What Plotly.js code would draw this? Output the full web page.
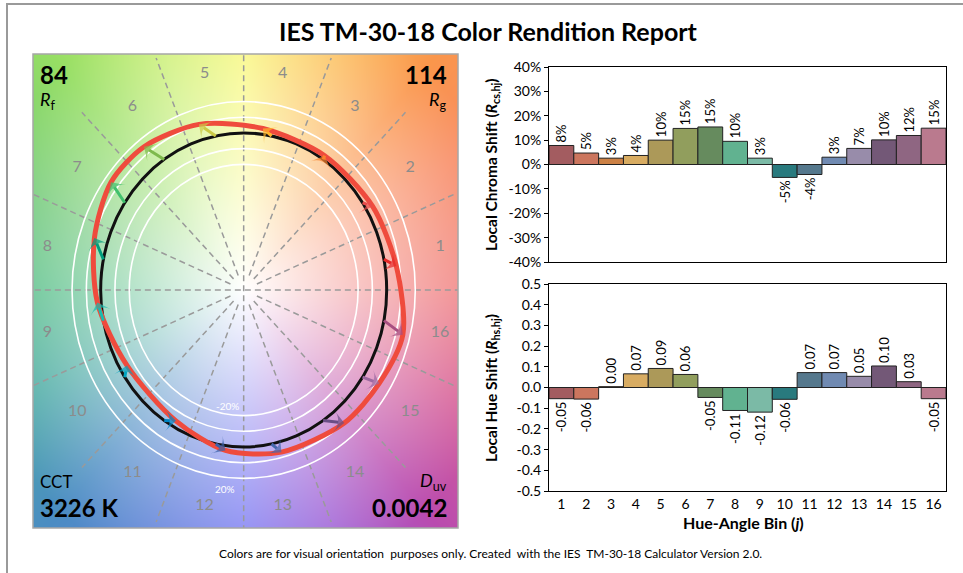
<!DOCTYPE html>
<html><head><meta charset="utf-8">
<script src="https://cdn.plot.ly/plotly-3.0.1.min.js"></script>
<style>html,body{margin:0;padding:0;background:#fff;}#chart{width:963px;height:573px;}</style>
</head><body><div id="chart"></div>
<script>
// ---------------- data ----------------
const bins = [1,2,3,4,5,6,7,8,9,10,11,12,13,14,15,16];
const binLabels = ['1','2','3','4','5','6','7','8','9','10','11','12','13','14','15','16'];
const chromaShift = [0.078,0.047,0.026,0.037,0.100,0.148,0.154,0.095,0.026,-0.053,-0.041,0.030,0.066,0.101,0.119,0.149];
const hueShift = [-0.054,-0.056,0.004,0.066,0.092,0.063,-0.048,-0.111,-0.119,-0.057,0.072,0.072,0.054,0.104,0.028,-0.054];
const barColors = ['#A35C60','#CC765E','#CC8145','#D8AC62','#AC9959','#919E5D','#668B5E','#61B290','#7BBAA6','#297A7E','#55788D','#708AB2','#988CAA','#735877','#8F6682','#BA7A8E'];
const arrowColors = ['#E62828','#E74B4B','#FB812E','#FFB529','#CBCA46','#7EB94C','#41C06D','#009C7C','#16BCB0','#00A4BF','#0085C3','#3B62AA','#4568AE','#6A4E85','#9D69A1','#A74F81'];
const chromaTickVals = [-0.4,-0.3,-0.2,-0.1,0,0.1,0.2,0.3,0.4];
const chromaTickText = ['-40%','-30%','-20%','-10%','0%','10%','20%','30%','40%'];
const hueTickVals = [-0.5,-0.4,-0.3,-0.2,-0.1,0,0.1,0.2,0.3,0.4,0.5];
const hueTickText = ['-0.5','-0.4','-0.3','-0.2','-0.1','0.0','0.1','0.2','0.3','0.4','0.5'];
const ringLevels = [0.8,0.9,1.1,1.2];
const RfText = '84', RgText = '114', cctText = '3226 K', duvText = '0.0042';

// ---------------- geometry / style ----------------
const W = 963, H = 573;
const FONT = 'Lato, "Open Sans", sans-serif';
const px = v => v / W, py = v => 1 - v / H;
const XR = [-1.473, 1.4986], YR = [-1.516, 1.503];
const deg = Math.PI / 180;
const binCenter = j => (22.5 * j + 11.25) * deg;

// background gradient image
const bgStops = [[0,[240,125,125]],[30,[248,140,100]],[48,[250,150,75]],[70,[252,200,100]],[90,[248,248,125]],[110,[205,240,120]],[132,[150,222,100]],[160,[110,200,120]],[180,[85,190,135]],[205,[75,170,165]],[228,[75,140,195]],[250,[100,130,220]],[270,[125,125,242]],[292,[160,100,215]],[312,[185,75,175]],[335,[215,95,150]],[360,[240,125,125]]];
function edgeColor(a){
  for(let i=0;i<bgStops.length-1;i++){
    const [a0,c0]=bgStops[i],[a1,c1]=bgStops[i+1];
    if(a>=a0 && a<=a1){const t=(a-a0)/(a1-a0);return c0.map((v,k)=>v+(c1[k]-v)*t);}
  }
  return bgStops[0][1];
}
const cw=425, ch=474;
const cv=document.createElement('canvas'); cv.width=cw; cv.height=ch;
const ctx=cv.getContext('2d'); const img=ctx.createImageData(cw,ch);
for(let j=0;j<ch;j++){for(let i=0;i<cw;i++){
  const x=XR[0]+(i+0.5)/cw*(XR[1]-XR[0]);
  const y=YR[1]-(j+0.5)/ch*(YR[1]-YR[0]);
  let a=Math.atan2(y,x)/deg; if(a<0)a+=360;
  const r=Math.sqrt(x*x+y*y);
  const s=Math.pow(Math.min(1,r/1.9),0.95);
  const c=edgeColor(a);
  const o=(j*cw+i)*4;
  for(let k=0;k<3;k++) img.data[o+k]=Math.round(255*(1-s)+c[k]*s);
  img.data[o+3]=255;
}}
ctx.putImageData(img,0,0);
const bgURL=cv.toDataURL();

// ---------------- vector graphic ----------------
const refX = bins.map((b,j)=>Math.cos(binCenter(j)));
const refY = bins.map((b,j)=>Math.sin(binCenter(j)));
const testX = bins.map((b,j)=>(1+chromaShift[j])*Math.cos(binCenter(j)+hueShift[j]));
const testY = bins.map((b,j)=>(1+chromaShift[j])*Math.sin(binCenter(j)+hueShift[j]));

const shapes = [];
const dashLine = {color:'#9a9a9a',width:1.5,dash:'6px,4px'};
shapes.push({type:'line',xref:'x',yref:'y',layer:'between',x0:-1.6,y0:0,x1:1.6,y1:0,line:dashLine});
shapes.push({type:'line',xref:'x',yref:'y',layer:'between',x0:0,y0:-1.6,x1:0,y1:1.6,line:dashLine});
for(let j=0;j<16;j++){
  if(j%4===0) continue;
  const a=22.5*j*deg;
  shapes.push({type:'line',xref:'x',yref:'y',layer:'between',x0:0.1*Math.cos(a),y0:0.1*Math.sin(a),x1:1.6*Math.cos(a),y1:1.6*Math.sin(a),line:dashLine});
}
ringLevels.forEach(r=>shapes.push({type:'circle',xref:'x',yref:'y',layer:'between',x0:-r,x1:r,y0:-r,y1:r,line:{color:'#ffffff',width:1.6}}));
shapes.push({type:'circle',xref:'x',yref:'y',layer:'between',x0:-1,x1:1,y0:-1,y1:1,line:{color:'#111111',width:3}});
shapes.push({type:'rect',xref:'paper',yref:'paper',x0:px(33),x1:px(458),y0:py(528),y1:py(54),line:{color:'#a6a6a6',width:1.5}});
shapes.push({type:'rect',xref:'paper',yref:'paper',x0:px(7),x1:1.05,y0:-0.05,y1:py(4),line:{color:'#9a9a9a',width:2}});

const annotations = [];
const T = (text,x,y,opts)=>Object.assign({text:text,xref:'paper',yref:'paper',x:x,y:y,showarrow:false,yanchor:'middle',font:{family:FONT,size:14,color:'#000'}},opts||{});
annotations.push(T('<b>IES TM-30-18 Color Rendition Report</b>',px(489),py(31),{xanchor:'center',font:{family:FONT,size:25,color:'#000'}}));
annotations.push(T('<b>'+RfText+'</b>',px(38),py(74),{xanchor:'left',font:{family:FONT,size:24,color:'#000'}}));
annotations.push(T('<i>R</i><sub>f</sub>',px(38),py(100),{xanchor:'left',font:{family:FONT,size:18,color:'#000'}}));
annotations.push(T('<b>'+RgText+'</b>',px(449),py(74),{xanchor:'right',font:{family:FONT,size:24,color:'#000'}}));
annotations.push(T('<i>R</i><sub>g</sub>',px(449),py(100),{xanchor:'right',font:{family:FONT,size:18,color:'#000'}}));
annotations.push(T('CCT',px(38),py(481),{xanchor:'left',font:{family:FONT,size:17,color:'#000'}}));
annotations.push(T('<b>'+cctText+'</b>',px(38),py(507),{xanchor:'left',font:{family:FONT,size:24,color:'#000'}}));
annotations.push(T('<i>D</i><sub>uv</sub>',px(449),py(481),{xanchor:'right',font:{family:FONT,size:18,color:'#000'}}));
annotations.push(T('<b>'+duvText+'</b>',px(449),py(507),{xanchor:'right',font:{family:FONT,size:24,color:'#000'}}));
annotations.push({text:'-20%',xref:'x',yref:'y',x:-0.11,y:-0.74,showarrow:false,font:{family:FONT,size:10,color:'#ffffff'}});
annotations.push({text:'20%',xref:'x',yref:'y',x:-0.13,y:-1.265,showarrow:false,font:{family:FONT,size:10,color:'#ffffff'}});
annotations.push(T('<b>Local Chroma Shift (<i>R</i><sub>cs,hj</sub>)</b>',px(492),py(164),{xanchor:'center',textangle:-90,font:{family:FONT,size:15.5,color:'#000'}}));
annotations.push(T('<b>Local Hue Shift (<i>R</i><sub>hs,hj</sub>)</b>',px(492),py(388),{xanchor:'center',textangle:-90,font:{family:FONT,size:15.5,color:'#000'}}));
annotations.push(T('<b>Hue-Angle Bin (<i>j</i>)</b>',px(743),py(522),{xanchor:'center',font:{family:FONT,size:16,color:'#000'}}));
annotations.push(T('Colors are for visual orientation  purposes only. Created  with the IES  TM-30-18 Calculator Version 2.0.',px(490),py(553),{xanchor:'center',font:{family:FONT,size:12,color:'#000'}}));

const traces = [
  {type:'scatter',x:testX.concat([testX[0]]),y:testY.concat([testY[0]]),xaxis:'x',yaxis:'y',mode:'lines',
   line:{color:'#EF4B3D',width:5,shape:'spline',smoothing:0.8},hoverinfo:'skip'},
  {type:'scatter',x:bins.map((b,j)=>1.4*Math.cos(binCenter(j))),y:bins.map((b,j)=>1.4*Math.sin(binCenter(j))),
   xaxis:'x',yaxis:'y',mode:'text',text:binLabels,textfont:{family:FONT,size:16,color:'#8c8c8c'},cliponaxis:false,hoverinfo:'skip'}
];
bins.forEach((b,j)=>{
  traces.push({type:'scatter',xaxis:'x',yaxis:'y',x:[refX[j],testX[j]],y:[refY[j],testY[j]],mode:'lines+markers',
    line:{color:arrowColors[j],width:3},
    marker:{symbol:'arrow-wide',size:[0,15],angleref:'previous',color:arrowColors[j],line:{width:0}},
    cliponaxis:false,hoverinfo:'skip'});
});
traces.push(
  {type:'bar',x:bins,y:chromaShift,xaxis:'x2',yaxis:'y2',marker:{color:barColors,line:{color:'#222',width:1}},
   text:chromaShift.map(v=>Math.round(v*100)+'%'),textposition:'outside',textangle:-90,constraintext:'none',cliponaxis:false,
   textfont:{family:FONT,size:13,color:'#000'},hoverinfo:'skip'},
  {type:'bar',x:bins,y:hueShift,xaxis:'x3',yaxis:'y3',marker:{color:barColors,line:{color:'#222',width:1}},
   text:hueShift.map(v=>v.toFixed(2)),textposition:'outside',textangle:-90,constraintext:'none',cliponaxis:false,
   textfont:{family:FONT,size:13,color:'#000'},hoverinfo:'skip'}
);

const boxAxis = {showline:true,mirror:true,linecolor:'#000',linewidth:1,showgrid:false};
const layout = {
  width:W,height:H,margin:{l:0,r:0,t:0,b:0},paper_bgcolor:'#ffffff',plot_bgcolor:'rgba(0,0,0,0)',
  showlegend:false,bargap:0,font:{family:FONT,color:'#000'},
  xaxis:{domain:[px(33),px(458)],range:XR,visible:false,showgrid:false,zeroline:false},
  yaxis:{domain:[py(528),py(54)],range:YR,visible:false,showgrid:false,zeroline:false},
  xaxis2:Object.assign({domain:[px(549),px(946)],range:[0.5,16.5],anchor:'y2',showticklabels:false,ticks:'',zeroline:false},boxAxis),
  yaxis2:Object.assign({domain:[py(262),py(67)],range:[-0.4,0.4],anchor:'x2',tickvals:chromaTickVals,ticktext:chromaTickText,
    ticks:'outside',ticklen:4,tickcolor:'#000',zeroline:true,zerolinecolor:'#000',zerolinewidth:1,tickfont:{family:FONT,size:14}},boxAxis),
  xaxis3:Object.assign({domain:[px(549),px(946)],range:[0.5,16.5],anchor:'y3',tickvals:bins,ticktext:binLabels,ticks:'',zeroline:false,
    tickfont:{family:FONT,size:14}},boxAxis),
  yaxis3:Object.assign({domain:[py(491),py(284)],range:[-0.5,0.5],anchor:'x3',tickvals:hueTickVals,ticktext:hueTickText,
    ticks:'outside',ticklen:4,tickcolor:'#000',zeroline:true,zerolinecolor:'#000',zerolinewidth:1,tickfont:{family:FONT,size:14}},boxAxis),
  images:[{source:bgURL,xref:'x',yref:'y',x:XR[0],y:YR[1],sizex:XR[1]-XR[0],sizey:YR[1]-YR[0],sizing:'stretch',layer:'below',xanchor:'left',yanchor:'top'}],
  shapes:shapes,annotations:annotations
};
Plotly.newPlot('chart',traces,layout,{staticPlot:true,displayModeBar:false});
</script></body></html>
